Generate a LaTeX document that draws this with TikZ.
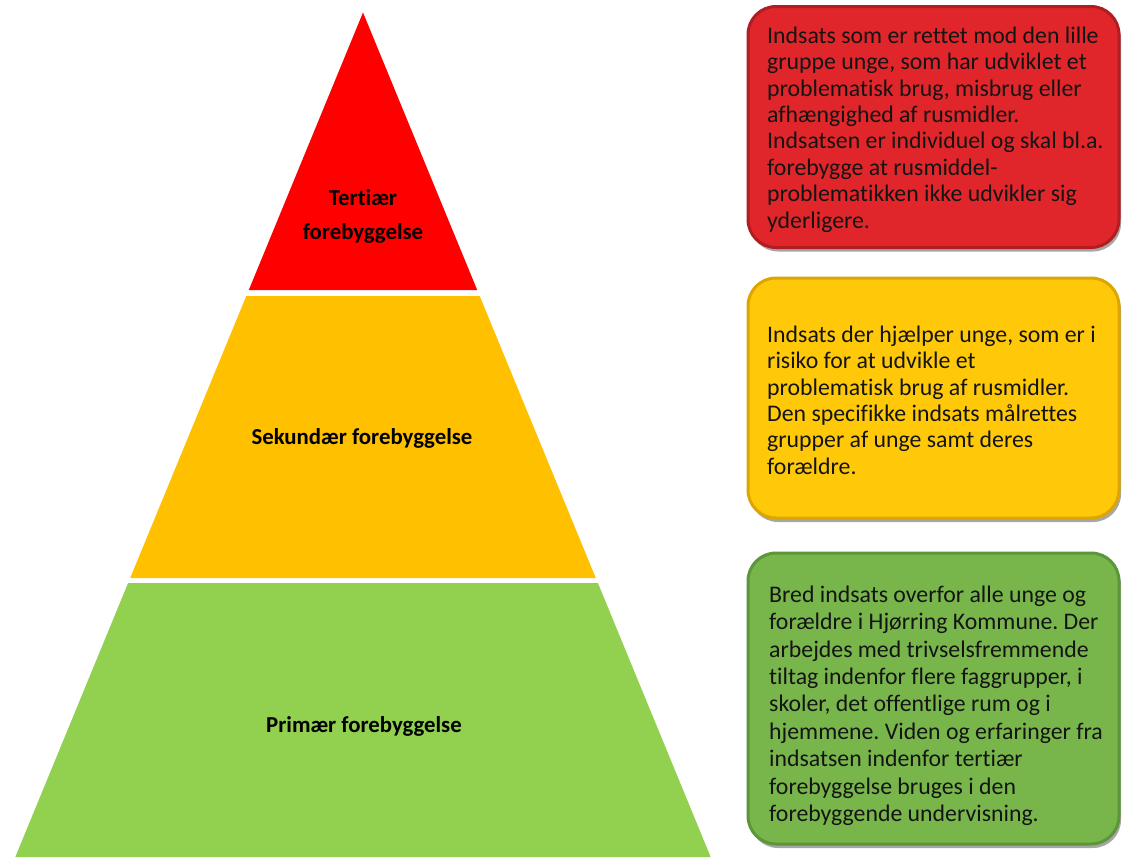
\documentclass[tikz,border=0pt]{standalone}
\usepackage{fontspec}
\setmainfont{Carlito}[Ligatures={NoCommon}]
\usetikzlibrary{shadows}
\definecolor{pyrred}{HTML}{FF0000}
\definecolor{pyryel}{HTML}{FFC000}
\definecolor{pyrgrn}{HTML}{92D050}
\definecolor{bxred}{HTML}{E0262A}
\definecolor{bxrededge}{HTML}{B21D22}
\definecolor{bxyel}{HTML}{FFC90A}
\definecolor{bxyeledge}{HTML}{DDA500}
\definecolor{bxgrn}{HTML}{78B64B}
\definecolor{bxgrnedge}{HTML}{5C9638}
\tikzset{
  lvl/.style={font=\fontsize{22.8}{34}\selectfont\bfseries, align=center, inner sep=0pt},
  infobox/.style={rounded corners=28pt, line width=3pt, minimum width=371pt, inner sep=0pt,
     drop shadow={shadow xshift=2pt, shadow yshift=-4pt, opacity=0.35, fill=black}},
  infotext/.style={font=\fontsize{23.8}{26.4}\selectfont, align=left, inner sep=0pt, anchor=north west, text=black!92}
}
\begin{document}
\frenchspacing
\begin{tikzpicture}[x=1pt,y=-1pt]
\useasboundingbox (0,0) rectangle (1122,857);
\fill[white] (0,0) rectangle (1122,857);
% pyramid
\fill[pyrred] (363,12.5) -- (477.2,290) -- (248.8,290) -- cycle;
\fill[pyryel] (246.3,296) -- (479.7,296) -- (595.8,578) -- (130.2,578) -- cycle;
\fill[pyrgrn] (128.1,583) -- (597.9,583) -- (710.7,857) -- (15.3,857) -- cycle;
\node[lvl] (tert) at (363,216) {Tertiær\\forebyggelse};
\node[lvl, anchor=base] (sek) at (362,444) {Sekundær forebyggelse};
\node[lvl, anchor=base] (prim) at (364,732) {Primær forebyggelse};
% boxes
\node[infobox, fill=bxred, draw=bxrededge, minimum height=241pt] (rb) at (933.5,127) {};
\node[infobox, fill=bxyel, draw=bxyeledge, minimum height=240pt] (yb) at (933.5,398) {};
\node[infobox, fill=bxgrn, draw=bxgrnedge, minimum height=291pt] (gb) at (933.5,698.5) {};
\node[infotext] (rt) at (767,26.5) {Indsats som er rettet mod den lille\\gruppe unge, som har udviklet et\\problematisk brug, misbrug eller\\afhængighed af rusmidler.\\Indsatsen er individuel og skal bl.a.\\forebygge at rusmiddel-\\problematikken ikke udvikler sig\\yderligere.};
\node[infotext] (yt) at (767,325.5) {Indsats der hjælper unge, som er i\\risiko for at udvikle et\\problematisk brug af rusmidler.\\Den specifikke indsats målrettes\\grupper af unge samt deres\\forældre.};
\node[infotext, font=\fontsize{23.8}{27.4}\selectfont] (gt) at (769,585.5) {Bred indsats overfor alle unge og\\forældre i Hjørring Kommune. Der\\arbejdes med trivselsfremmende\\tiltag indenfor flere faggrupper, i\\skoler, det offentlige rum og i\\hjemmene. Viden og erfaringer fra\\indsatsen indenfor tertiær\\forebyggelse bruges i den\\forebyggende undervisning.};
\end{tikzpicture}
\end{document}
